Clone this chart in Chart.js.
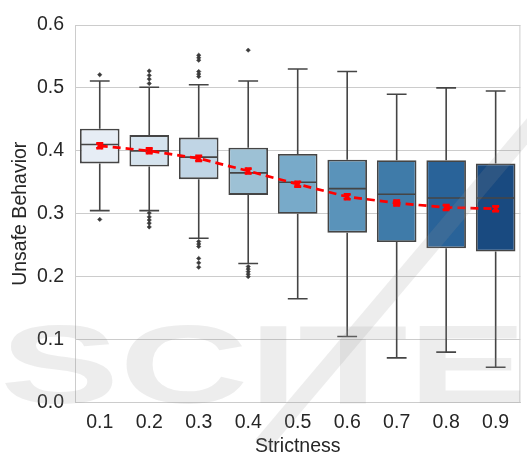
<!DOCTYPE html>
<html><head><meta charset="utf-8">
<script src="https://cdn.jsdelivr.net/npm/chart.js@4/dist/chart.umd.min.js"></script>
<style>html,body{margin:0;padding:0;background:#fff}#wrap{width:527px;height:453px}</style>
</head><body><div id="wrap"><canvas id="c" width="527" height="453"></canvas></div>
<script>
const categories = ['0.1','0.2','0.3','0.4','0.5','0.6','0.7','0.8','0.9'];
const q1 = [0.380,0.375,0.355,0.330,0.300,0.270,0.255,0.245,0.240];
const q3 = [0.435,0.425,0.421,0.405,0.395,0.386,0.385,0.385,0.380];
const medians = [0.410,0.400,0.390,0.365,0.350,0.340,0.331,0.325,0.325];
const whiskerLow = [0.305,0.305,0.261,0.221,0.165,0.105,0.071,0.080,0.056];
const whiskerHigh = [0.511,0.501,0.505,0.511,0.530,0.526,0.490,0.500,0.495];
const outliers = [
  [0.521,0.291],
  [0.527,0.520,0.514,0.507,0.301,0.295,0.290,0.285,0.279],
  [0.552,0.548,0.544,0.526,0.522,0.518,0.256,0.252,0.248,0.229,0.222,0.215],
  [0.560,0.216,0.212,0.208,0.204,0.200],
  [],[],[],[],[]
];
const means = [0.408,0.400,0.388,0.368,0.347,0.327,0.317,0.310,0.308];
const meanErr = [0.004,0.004,0.004,0.004,0.004,0.004,0.004,0.004,0.004];
const yTickStep = 0.1;
const yMin = 0.0, yMax = 0.6;
const xTitle = 'Strictness';
const yTitle = 'Unsafe Behavior';

const boxColors = ['#e6edf5','#d5e3ee','#c0d5e5','#9dc1d5','#78aac9','#5a93ba','#3f7ba9','#296399','#194a80'];
const lineGray = '#454545';
const FONT = '"Liberation Sans", Arial, sans-serif';

const outlierPoints = [];
outliers.forEach((arr, i) => arr.forEach(v => outlierPoints.push({x: categories[i], y: v})));

const boxPlugin = {
  id: 'boxparts',
  afterDatasetDraw(chart, args) {
    const ctx = chart.ctx;
    const ys = chart.scales.y;
    if (args.index === 0) {
      const meta = chart.getDatasetMeta(0);
      ctx.save();
      ctx.strokeStyle = lineGray;
      ctx.lineWidth = 1.6;
      meta.data.forEach((bar, i) => {
        const x = bar.x, w = bar.width;
        const yq1 = ys.getPixelForValue(q1[i]), yq3 = ys.getPixelForValue(q3[i]);
        const ylo = ys.getPixelForValue(whiskerLow[i]), yhi = ys.getPixelForValue(whiskerHigh[i]);
        const ym = ys.getPixelForValue(medians[i]);
        ctx.beginPath();
        ctx.moveTo(x, yq3); ctx.lineTo(x, yhi);
        ctx.moveTo(x - w/4, yhi); ctx.lineTo(x + w/4, yhi);
        ctx.moveTo(x, yq1); ctx.lineTo(x, ylo);
        ctx.moveTo(x - w/4, ylo); ctx.lineTo(x + w/4, ylo);
        ctx.moveTo(x - w/2 + 1, ym); ctx.lineTo(x + w/2 - 1, ym);
        ctx.stroke();
      });
      ctx.restore();
    }
    if (args.index === 2) {
      const meta = chart.getDatasetMeta(2);
      ctx.save();
      ctx.strokeStyle = '#ff0000';
      ctx.lineWidth = 2.5;
      meta.data.forEach((pt, i) => {
        const x = pt.x;
        const a = ys.getPixelForValue(means[i] - meanErr[i]);
        const b = ys.getPixelForValue(means[i] + meanErr[i]);
        ctx.beginPath();
        ctx.moveTo(x, a); ctx.lineTo(x, b);
        ctx.moveTo(x - 3.5, a); ctx.lineTo(x + 3.5, a);
        ctx.moveTo(x - 3.5, b); ctx.lineTo(x + 3.5, b);
        ctx.stroke();
      });
      ctx.restore();
    }
  },
  afterDraw(chart) {
    const ctx = chart.ctx;
    const ca = chart.chartArea;
    ctx.save();
    ctx.strokeStyle = '#cccccc';
    ctx.lineWidth = 1;
    ctx.beginPath();
    ctx.moveTo(ca.right - 0.5, ca.top); ctx.lineTo(ca.right - 0.5, ca.bottom);
    ctx.stroke();
    // watermark overlay
    ctx.fillStyle = 'rgba(150,150,150,0.17)';
    ctx.strokeStyle = 'rgba(150,150,150,0.17)';
    ctx.font = 'bold 112px ' + FONT;
    ctx.textBaseline = 'alphabetic';
    const w = ctx.measureText('SCITE').width;
    ctx.save();
    ctx.translate(0, 403);
    ctx.scale(527 / w, 1);
    ctx.fillText('SCITE', 0, 0);
    ctx.restore();
    ctx.lineWidth = 17;
    ctx.lineCap = 'butt';
    ctx.beginPath();
    ctx.moveTo(262, 445); ctx.lineTo(545, 110);
    ctx.stroke();
    ctx.restore();
  }
};

new Chart(document.getElementById('c'), {
  data: {
    labels: categories,
    datasets: [
      {
        type: 'bar',
        data: categories.map((c, i) => [q1[i], q3[i]]),
        backgroundColor: boxColors,
        borderColor: lineGray,
        borderWidth: 1.8,
        borderSkipped: false,
        barPercentage: 0.8,
        categoryPercentage: 1.0,
        order: 3
      },
      {
        type: 'line',
        data: outlierPoints,
        showLine: false,
        pointStyle: 'rectRot',
        pointRadius: 2.2,
        pointBackgroundColor: '#3a3a3a',
        pointBorderColor: '#3a3a3a',
        pointBorderWidth: 0.5,
        order: 2
      },
      {
        type: 'line',
        data: means,
        borderColor: '#ff0000',
        borderWidth: 2.7,
        borderDash: [8, 5],
        tension: 0,
        fill: false,
        pointStyle: 'crossRot',
        pointRadius: 4,
        pointBorderWidth: 2.6,
        pointBorderColor: '#ff0000',
        pointBackgroundColor: '#ff0000',
        order: 1
      }
    ]
  },
  options: {
    responsive: false,
    animation: false,
    events: [],
    layout: { padding: { top: 25, left: 0, right: 0, bottom: 0 } },
    plugins: { legend: { display: false }, tooltip: { enabled: false } },
    scales: {
      x: {
        type: 'category',
        offset: true,
        grid: { display: false, drawTicks: false },
        border: { display: true, color: '#cccccc', width: 1 },
        ticks: { color: '#262626', font: { family: FONT, size: 19.5 }, padding: 8 },
        title: { display: true, text: xTitle, color: '#262626', font: { family: FONT, size: 19.5, lineHeight: 0.7 }, padding: { top: 0, bottom: 0 } },
        afterFit(s) { s.height = 50.5; }
      },
      y: {
        min: yMin, max: yMax,
        grid: { color: '#cccccc', lineWidth: 1, drawTicks: false },
        border: { display: true, color: '#cccccc', width: 1 },
        ticks: { stepSize: yTickStep, color: '#262626', font: { family: FONT, size: 19.5 }, padding: 11, callback: v => Number(v).toFixed(1) },
        title: { display: true, text: yTitle, color: '#262626', font: { family: FONT, size: 19.5, lineHeight: 1 }, padding: { top: 10.5, bottom: 0 } },
        afterFit(s) { s.width = 75; }
      }
    }
  },
  plugins: [boxPlugin]
});
</script>
</body></html>
